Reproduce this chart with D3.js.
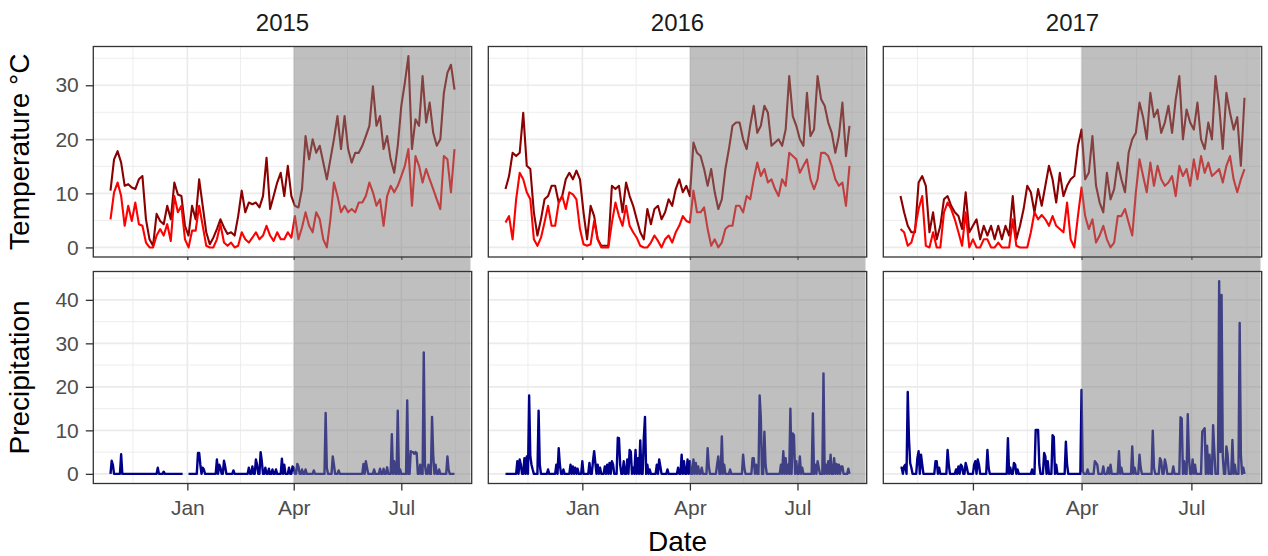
<!DOCTYPE html>
<html>
<head>
<meta charset="utf-8">
<script src="https://cdn.jsdelivr.net/npm/d3@7"></script>
<style>
  body { margin: 0; background: #fff; }
  text { font-family: "Liberation Sans", Arial, sans-serif; }
</style>
</head>
<body>
<svg id="chart" width="1268" height="556"></svg>
<script>
// ---- data ---------------------------------------------------------------
const years = ["2015", "2016", "2017"];
const seasonStart = ["2014-10-28", "2015-10-28", "2016-11-02"]; // first day of each season
const shadeStart = ["2015-04-01", "2016-04-01", "2017-04-01"];  // growing season start
const tempStepDays = 3;                                          // temperature readings every 3 days

const tmax2015 = [10.5,16.3,17.8,15.7,11.4,11.7,11.1,10.8,12.6,13.2, 5.2,1.5,0.3,6.2,4.9,4.3,7.7,5.2,12.0,9.8,
  9.5,4.0,2.2,7.7,5.2,12.6,7.7,2.8,0.6,1.8, 3.4,5.2,3.7,2.5,2.8,2.2,5.8,10.5,6.5,8.3,
  8.0,8.3,7.4,9.5,16.6,7.1,9.5,12.0,13.8,9.5, 15.1,9.5,7.7,7.4,10.8,20.6,16.3,20.0,17.5,18.8,
  15.7,12.6,16.3,20.0,24.3,18.2,24.3,18.2,15.7,17.5, 17.5,18.8,20.6,22.5,29.8,22.5,24.3,18.2,20.6,16.3,
  13.8,18.8,26.2,30.5,35.4,18.2,23.7,22.5,31.7,23.1, 26.8,21.2,18.8,20.0,28.6,32.3,33.8,29.2];
const tmin2015 = [5.2,10.2,12.0,9.5,4.0,7.7,4.9,8.3,4.3,4.0, 0.9,0,0,2.2,3.4,2.2,4.3,1.2,9.5,6.5,
  7.7,1.5,0,3.1,3.1,7.7,4.0,0.3,0,0, 1.5,4.3,0.9,0.3,0.9,0,0.3,2.8,1.5,0.9,
  1.8,2.8,1.5,2.2,4.0,2.2,1.2,2.8,1.5,1.5, 2.8,1.8,5.8,1.5,3.7,6.5,4.0,2.8,6.5,5.2,
  1.5,0,5.2,12.0,9.5,6.5,7.7,6.5,7.1,6.5, 8.3,8.3,9.5,12.0,10.2,7.7,8.9,4.0,9.5,11.4,
  10.2,11.4,13.2,15.1,18.2,7.7,16.9,15.1,12.0,14.5, 12.6,10.8,8.9,7.1,16.9,16.3,10.2,18.2];

const tmax2016 = [10.8,13.2,17.5,16.9,17.5,24.9,15.1,14.5,6.5,2.2, 5.2,8.9,9.5,11.4,11.4,8.3,9.5,12.6,13.8,12.6,
  14.2,12.6,6.5,1.5,7.7,5.8,1.5,0.3,0.3,0.3, 11.4,10.8,11.4,6.5,12.0,9.5,7.7,5.2,2.8,1.5,
  7.1,4.3,7.1,7.7,5.2,6.5,8.9,7.7,10.8,12.6, 10.2,11.4,9.5,19.4,17.5,16.9,14.5,11.4,14.5,10.2,
  7.1,8.9,14.5,18.2,22.5,23.1,23.1,20.0,18.2,22.5, 26.2,21.2,22.5,26.2,24.9,18.8,19.4,20.0,18.8,21.8,
  31.7,24.3,22.5,20.0,18.8,28.6,20.6,21.8,31.7,27.4, 26.2,23.1,21.2,17.5,20.6,26.8,16.9,22.5];
const tmin2016 = [4.6,5.8,1.5,8.9,13.8,12.6,10.2,8.9,1.5,0.3, 1.8,4.6,7.7,4.0,4.0,8.3,9.5,7.1,10.2,9.8,
  8.9,3.4,0.6,0.3,0.6,4.9,1.5,0,0,0, 4.6,8.3,5.8,4.0,7.7,4.0,2.8,1.8,0.3,0,
  0,0.9,2.2,1.2,0,1.5,2.2,0.9,2.8,4.0, 5.8,4.9,4.6,10.5,6.5,6.5,7.4,3.4,0.3,1.5,
  0,0.9,3.4,4.0,4.0,7.7,7.7,6.5,9.5,8.9, 12.6,15.7,13.2,14.5,12.0,12.6,10.8,9.5,12.6,11.4,
  17.5,16.9,16.3,13.8,15.1,16.3,12.6,10.8,12.6,17.5, 17.5,16.9,15.1,12.6,11.4,12.0,7.7,15.1];

const tmax2017 = [9.5,6.5,4.0,2.8,2.8,12.0,13.2,11.4,2.8,6.5, 1.5,4.0,8.9,9.5,7.7,6.5,5.8,3.4,10.2,2.8,
  4.0,5.2,1.5,4.0,2.2,4.0,1.5,4.0,1.5,4.0, 2.2,9.5,1.5,4.0,7.1,11.4,10.2,6.5,10.8,7.7,
  11.4,15.1,12.6,8.3,13.8,9.5,11.4,12.6,13.2,18.8, 21.8,12.6,13.8,20.6,11.4,8.3,6.5,13.8,8.9,10.8,
  15.7,12.6,10.2,17.5,20.0,21.2,26.8,24.1,20.0,28.6, 24.1,25.5,21.2,23.1,26.2,21.2,27.4,31.7,20.0,25.5,
  23.1,21.8,26.8,20.0,18.2,23.1,20.0,31.7,26.2,18.2, 28.6,24.9,21.8,24.1,15.1,27.7];
const tmin2017 = [3.4,2.8,0.3,0.9,3.4,7.1,9.5,0.3,0,2.8, 0,0,6.5,8.3,7.1,5.2,2.8,0.3,6.5,0,
  1.5,0,0,1.5,1.5,0,0,0.9,0,0, 0,5.2,0.3,0,0,0,2.8,6.5,5.2,6.0,
  5.2,4.0,5.8,4.0,3.4,2.8,8.3,1.5,0,5.8, 11.1,5.8,3.4,5.2,0.9,2.2,4.0,1.5,0,0.9,
  5.8,5.8,7.1,4.6,2.2,10.2,16.3,13.2,10.2,15.7, 11.4,15.1,12.6,11.4,12.0,13.2,9.5,15.1,13.2,14.5,
  11.4,16.3,12.6,16.9,13.8,15.7,13.2,13.8,14.5,12.0, 15.1,16.9,12.6,10.2,12.6,14.5];

// daily precipitation: [day of season, mm]; days not listed had no rain
const rain2015 = [[1,3.0],[2,2.1],[9,4.5],[40,1.4],[45,0.5],[74,4.8],[75,4.8],[76,2.1],[78,1.4],[79,1.0],
  [90,3.3],[92,2.1],[93,1.4],[96,3.0],[97,1.7],[104,0.8],[117,1.4],[120,1.7],[123,3.3],[124,2.1],
  [127,5.0],[128,2.9],[131,1.4],[134,1.2],[137,1.0],[140,1.0],[145,3.5],[147,2.1],[151,1.4],[154,1.7],
  [155,1.4],[158,2.3],[159,1.7],[162,1.0],[165,1.0],[172,0.8],[182,14.0],[183,1.4],[188,4.0],[189,2.1],
  [193,0.8],[214,2.3],[216,2.9],[217,1.4],[223,1.0],[228,1.2],[231,1.2],[234,1.5],[238,9.1],[240,2.9],
  [243,14.5],[245,1.0],[251,16.9],[254,5.2],[255,5.0],[256,5.0],[257,4.6],[258,5.0],[259,4.8],[262,2.1],
  [265,27.9],[266,2.1],[269,2.1],[272,13.1],[273,4.4],[275,2.1],[278,1.0],[285,4.0],[286,1.0]];
const rainMissing2015 = [62, 63, 64, 65];

const rain2016 = [[10,2.9],[12,3.3],[13,2.1],[16,3.6],[18,4.0],[20,18.0],[21,4.0],[22,2.1],[23,1.0],[28,14.5],
  [29,2.1],[36,1.0],[43,2.1],[45,5.9],[46,2.1],[49,1.0],[55,2.1],[57,1.7],[59,1.4],[61,1.2],
  [65,2.9],[71,2.5],[74,2.9],[75,5.2],[76,2.5],[78,2.1],[80,1.4],[84,1.7],[86,2.1],[88,2.5],
  [90,2.9],[91,2.1],[95,8.3],[96,8.2],[97,2.1],[100,2.9],[103,3.3],[105,5.5],[106,5.1],[108,1.4],
  [110,5.5],[112,3.6],[114,7.7],[117,8.2],[118,13.1],[120,2.1],[122,1.0],[128,2.1],[130,3.3],[131,1.7],
  [137,1.0],[146,1.4],[149,4.4],[151,2.9],[154,3.3],[156,2.9],[159,3.3],[161,2.5],[163,1.7],[166,1.4],
  [171,5.9],[172,1.7],[179,2.1],[180,4.0],[183,8.6],[185,2.1],[190,1.0],[201,4.4],[202,1.4],[209,3.6],
  [210,3.6],[212,2.1],[215,18.0],[216,12.7],[219,9.7],[220,2.1],[233,2.1],[235,5.2],[237,3.6],[239,2.1],
  [241,15.0],[243,9.3],[244,8.9],[246,2.9],[249,4.0],[251,1.4],[260,13.9],[262,2.1],[264,2.9],[265,1.4],
  [269,23.1],[271,2.1],[273,2.9],[275,4.4],[278,3.6],[280,2.3],[282,2.1],[284,1.7],[285,1.7],[290,1.2]];
const rainMissing2016 = [];

const rain2017 = [[0,1.4],[1,1.4],[3,1.7],[4,2.1],[6,18.8],[7,8.2],[8,2.5],[9,1.4],[14,3.6],[15,5.2],
  [17,4.4],[18,2.1],[29,2.9],[30,2.9],[32,1.4],[39,5.5],[40,2.1],[46,1.0],[48,1.7],[50,2.1],
  [51,1.7],[54,2.5],[55,1.4],[61,2.1],[62,2.9],[64,3.3],[65,2.1],[72,5.5],[73,1.4],[89,8.2],
  [91,1.4],[94,2.5],[95,2.1],[97,1.0],[109,1.0],[112,10.1],[113,10.1],[114,10.1],[115,2.1],[119,4.8],
  [120,4.0],[122,2.9],[126,8.9],[127,8.5],[129,2.1],[137,7.4],[138,2.1],[150,19.3],[151,0.6],[155,1.0],
  [161,2.9],[162,2.5],[163,2.1],[168,1.7],[172,1.4],[174,2.1],[181,5.2],[183,1.4],[192,6.3],[194,1.4],
  [198,4.4],[199,1.4],[209,9.9],[210,1.4],[215,3.6],[216,2.9],[219,3.3],[220,2.1],[226,1.7],[232,13.0],
  [233,12.7],[235,2.9],[238,13.7],[239,3.6],[242,3.3],[244,2.1],[250,9.7],[251,10.1],[252,10.5],[254,6.5],
  [256,4.4],[259,11.2],[260,5.1],[264,44.3],[265,5.0],[266,41.1],[267,4.0],[270,6.3],[271,4.4],[275,7.8],
  [277,2.1],[281,34.7],[282,4.4],[284,1.4]];
const rainMissing2017 = [];

const tempTicks = [0, 10, 20, 30];
const rainTicks = [0, 10, 20, 30, 40];
const rowTitles = ["Temperature °C", "Precipitation"];
const xTitle = "Date";

const tmaxSeries = [tmax2015, tmax2016, tmax2017];
const tminSeries = [tmin2015, tmin2016, tmin2017];
const rainSeries = [rain2015, rain2016, rain2017];
const rainMissing = [rainMissing2015, rainMissing2016, rainMissing2017];

// ---- layout -------------------------------------------------------------
const colX = [[93.3, 471.7], [488.3, 866.7], [883.3, 1261.7]];
const tempRow = [46.5, 257];
const rainRow = [271.5, 483.5];
const DAY = 864e5;
const parse = d3.utcParse("%Y-%m-%d");
const FONT = "'Liberation Sans', Arial, sans-serif";

const svg = d3.select("#chart");

// padded linear domain, ggplot style (5% each side)
function padded(ext) {
  const p = (ext[1] - ext[0]) * 0.05;
  return [ext[0] - p, ext[1] + p];
}

const yTemp = d3.scaleLinear()
  .domain(padded(d3.extent(tmaxSeries.flat().concat(tminSeries.flat()))))
  .range([tempRow[1], tempRow[0]]);
const yRain = d3.scaleLinear()
  .domain(padded([0, d3.max(rainSeries.flat(), d => d[1])]))
  .range([rainRow[1], rainRow[0]]);

const GRID = "#EBEBEB";
const BORDER = "#333333";
const TICKTXT = "#4D4D4D";

function minorBetween(values, domain) {
  const out = [];
  for (let i = 0; i < values.length - 1; i++) {
    const m = (+values[i] + +values[i + 1]) / 2;
    if (m >= +domain[0] && m <= +domain[1]) out.push(m);
  }
  return out;
}

function drawGrid(g, x, y, row, yMajor) {
  const xd = x.domain();
  const xMajorAll = d3.utcMonth.every(3).range(new Date(+xd[0] - 120 * DAY), new Date(+xd[1] + 120 * DAY));
  const xMajor = xMajorAll.filter(d => d >= xd[0] && d <= xd[1]);
  const xMinor = minorBetween(xMajorAll, xd);
  const yd = y.domain();
  const yAll = d3.range(Math.floor(yd[0] / 10) * 10 - 10, yd[1] + 20, 10);
  const yMinor = minorBetween(yAll, yd);
  const [x0, x1] = x.range();
  g.selectAll(".ymin").data(yMinor).join("line")
    .attr("x1", x0).attr("x2", x1).attr("y1", d => y(d)).attr("y2", d => y(d))
    .attr("stroke", GRID).attr("stroke-width", 0.9);
  g.selectAll(".xmin").data(xMinor).join("line")
    .attr("x1", d => x(d)).attr("x2", d => x(d)).attr("y1", row[0]).attr("y2", row[1])
    .attr("stroke", GRID).attr("stroke-width", 0.9);
  g.append("g").selectAll("line").data(yMajor).join("line")
    .attr("x1", x0).attr("x2", x1).attr("y1", d => y(d)).attr("y2", d => y(d))
    .attr("stroke", GRID).attr("stroke-width", 1.7);
  g.append("g").selectAll("line").data(xMajor).join("line")
    .attr("x1", d => x(d)).attr("x2", d => x(d)).attr("y1", row[0]).attr("y2", row[1])
    .attr("stroke", GRID).attr("stroke-width", 1.7);
  return xMajor;
}

const overlayLayer = [];

years.forEach((yr, c) => {
  const start = parse(seasonStart[c]);
  const tmax = tmaxSeries[c], tmin = tminSeries[c];
  const tempData = tmax.map((v, i) => ({
    date: new Date(+start + i * tempStepDays * DAY), hi: v, lo: tmin[i]
  }));
  const end = tempData[tempData.length - 1].date;
  const x = d3.scaleUtc().domain(padded([+start, +end]).map(t => new Date(t))).range(colX[c]);

  // daily precipitation over the season
  const nDays = Math.round((+end - +start) / DAY);
  const rainMap = new Map(rainSeries[c]);
  const missing = new Set(rainMissing[c]);
  const rainData = d3.range(0, nDays + 1).map(d => ({
    date: new Date(+start + d * DAY),
    mm: missing.has(d) ? null : (rainMap.get(d) || 0)
  }));

  const [x0, x1] = colX[c];
  const clipT = "clipT" + c, clipR = "clipR" + c;
  const defs = svg.append("defs");
  defs.append("clipPath").attr("id", clipT).append("rect")
    .attr("x", x0).attr("y", tempRow[0]).attr("width", x1 - x0).attr("height", tempRow[1] - tempRow[0]);
  defs.append("clipPath").attr("id", clipR).append("rect")
    .attr("x", x0).attr("y", rainRow[0]).attr("width", x1 - x0).attr("height", rainRow[1] - rainRow[0]);

  // temperature panel
  const gT = svg.append("g");
  gT.append("rect").attr("x", x0).attr("y", tempRow[0]).attr("width", x1 - x0)
    .attr("height", tempRow[1] - tempRow[0]).attr("fill", "#fff");
  const majors = drawGrid(gT.append("g"), x, yTemp, tempRow, tempTicks);
  const lines = gT.append("g").attr("clip-path", `url(#${clipT})`);
  lines.append("path").datum(tempData)
    .attr("d", d3.line().x(d => x(d.date)).y(d => yTemp(d.hi)))
    .attr("fill", "none").attr("stroke", "#8B0000").attr("stroke-width", 2.1)
    .attr("stroke-linejoin", "round");
  lines.append("path").datum(tempData)
    .attr("d", d3.line().x(d => x(d.date)).y(d => yTemp(d.lo)))
    .attr("fill", "none").attr("stroke", "#FF0000").attr("stroke-width", 2.1)
    .attr("stroke-linejoin", "round");

  // precipitation panel
  const gR = svg.append("g");
  gR.append("rect").attr("x", x0).attr("y", rainRow[0]).attr("width", x1 - x0)
    .attr("height", rainRow[1] - rainRow[0]).attr("fill", "#fff");
  drawGrid(gR.append("g"), x, yRain, rainRow, rainTicks);
  gR.append("g").attr("clip-path", `url(#${clipR})`)
    .append("path").datum(rainData)
    .attr("d", d3.line().defined(d => d.mm !== null).x(d => x(d.date)).y(d => yRain(d.mm)))
    .attr("fill", "none").attr("stroke", "#00008B").attr("stroke-width", 2.4)
    .attr("stroke-linejoin", "round");

  overlayLayer.push({ x: x(parse(shadeStart[c])), x1: x1 - 1.2 });

  // axes
  const axT = svg.append("g").attr("transform", `translate(0,${tempRow[1]})`)
    .call(d3.axisBottom(x).tickValues(majors).tickSize(3).tickFormat(""));
  const axB = svg.append("g").attr("transform", `translate(0,${rainRow[1]})`)
    .call(d3.axisBottom(x).tickValues(majors).tickSize(7).tickPadding(10)
      .tickFormat(d3.utcFormat("%b")));
  [axT, axB].forEach(a => {
    a.select(".domain").remove();
    a.selectAll(".tick line").attr("stroke", BORDER).attr("stroke-width", 1.3);
  });
  axB.selectAll(".tick text").attr("fill", TICKTXT).attr("font-size", 21)
    .style("font-family", FONT);

  if (c === 0) {
    [[yTemp, tempTicks], [yRain, rainTicks]].forEach(([y, ticks]) => {
      const a = svg.append("g").attr("transform", `translate(${x0},0)`)
        .call(d3.axisLeft(y).tickValues(ticks).tickSize(7.5).tickPadding(7));
      a.select(".domain").remove();
      a.selectAll(".tick line").attr("stroke", BORDER).attr("stroke-width", 1.3);
      a.selectAll(".tick text").attr("fill", TICKTXT).attr("font-size", 21)
        .style("font-family", FONT);
    });
  }

  // year strip label
  svg.append("text").attr("x", (x0 + x1) / 2).attr("y", 31)
    .attr("text-anchor", "middle").attr("font-size", 24).attr("fill", "#1A1A1A")
    .text(yr);
});

// growing-season shading across both rows
svg.append("g").selectAll("rect").data(overlayLayer).join("rect")
  .attr("x", d => d.x).attr("width", d => d.x1 - d.x)
  .attr("y", tempRow[0]).attr("height", rainRow[1] - tempRow[0])
  .attr("fill", "#7F7F7F").attr("fill-opacity", 0.5);

// panel borders
colX.forEach(([x0, x1]) => {
  [tempRow, rainRow].forEach(([y0, y1]) => {
    svg.append("rect").attr("x", x0).attr("y", y0).attr("width", x1 - x0).attr("height", y1 - y0)
      .attr("fill", "none").attr("stroke", BORDER).attr("stroke-width", 1.3);
  });
});

// axis titles
[[rowTitles[0], tempRow], [rowTitles[1], rainRow]].forEach(([t, row]) => {
  svg.append("text")
    .attr("transform", `translate(29,${(row[0] + row[1]) / 2}) rotate(-90)`)
    .attr("text-anchor", "middle").attr("font-size", 28).attr("fill", "#000")
    .text(t);
});
svg.append("text").attr("x", (colX[0][0] + colX[2][1]) / 2).attr("y", 551)
  .attr("text-anchor", "middle").attr("font-size", 28).attr("fill", "#000")
  .text(xTitle);
</script>
</body>
</html>
